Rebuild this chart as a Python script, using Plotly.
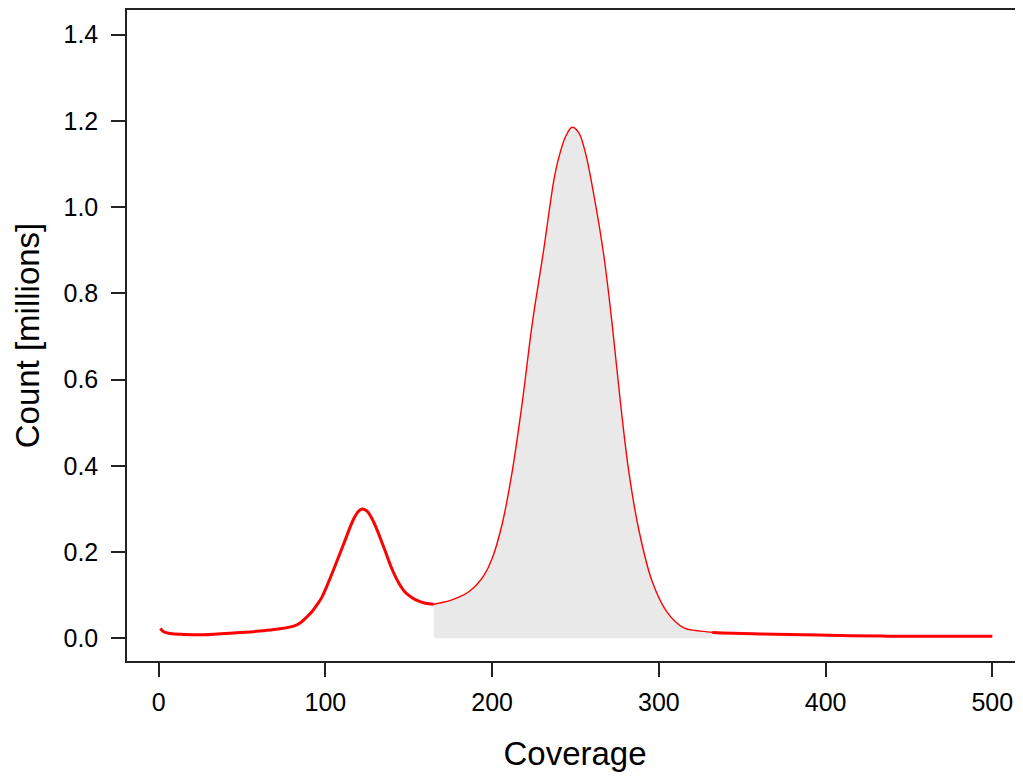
import plotly.graph_objects as go

# Coverage histogram (counts in millions)
coverage = [1, 3, 7, 15, 27, 47, 67, 81, 85, 89, 92, 95, 98, 101, 105, 111, 117, 120, 122,
            125, 129, 135, 140, 144, 148, 152, 156, 160, 165, 170, 175, 181, 186, 190, 195,
            200, 206, 212, 218, 224, 231, 237, 240, 244, 248, 252, 256, 261, 267, 272, 277,
            282, 288, 296, 305, 315, 322, 327, 332, 338, 360, 395, 434, 470, 500]
count_millions = [0.023, 0.015, 0.011, 0.009, 0.008, 0.0128, 0.019, 0.028, 0.036, 0.05,
                  0.062, 0.078, 0.096, 0.122, 0.16, 0.219, 0.277, 0.295, 0.300, 0.295,
                  0.269, 0.211, 0.160, 0.128, 0.106, 0.094, 0.086, 0.081, 0.079, 0.083,
                  0.088, 0.097, 0.108, 0.121, 0.145, 0.185, 0.265, 0.386, 0.545, 0.728,
                  0.903, 1.062, 1.115, 1.163, 1.185, 1.172, 1.125, 1.028, 0.887, 0.728,
                  0.545, 0.386, 0.251, 0.1315, 0.060, 0.024, 0.018, 0.016, 0.0136, 0.0125,
                  0.010, 0.0074, 0.005, 0.0045, 0.0044]

shade_start = 165
shade_end = 332

x_ticks = [0, 100, 200, 300, 400, 500]
y_ticks = [0.0, 0.2, 0.4, 0.6, 0.8, 1.0, 1.2, 1.4]

pts = list(zip(coverage, count_millions))
left = [p for p in pts if p[0] <= shade_start]
mid = [p for p in pts if shade_start <= p[0] <= shade_end]
right = [p for p in pts if p[0] >= shade_end]

RED = "#FF0000"
fig = go.Figure()
fig.add_trace(go.Scatter(x=[p[0] for p in mid], y=[p[1] for p in mid], mode="lines",
                         fill="tozeroy", fillcolor="#E9E9E9",
                         line=dict(width=0, shape="spline", color="rgba(0,0,0,0)"),
                         hoverinfo="skip", showlegend=False))
for seg, w in ((left, 3), (mid, 1.4), (right, 3)):
    fig.add_trace(go.Scatter(x=[p[0] for p in seg], y=[p[1] for p in seg], mode="lines",
                             line=dict(color=RED, width=w, shape="spline"),
                             showlegend=False))

font = "Liberation Sans, Arial, Helvetica, sans-serif"
fig.update_layout(
    width=1015, height=768,
    margin=dict(l=119, r=0, t=0, b=115),
    paper_bgcolor="white", plot_bgcolor="white",
    font=dict(family=font, color="black", size=25),
    xaxis=dict(range=[-19.0, 518.4], tickvals=x_ticks, ticktext=[str(v) for v in x_ticks],
               showline=True, mirror=True, linecolor="#222", linewidth=1.5,
               ticks="outside", ticklen=14, tickwidth=1.5, tickcolor="#222",
               showgrid=False, zeroline=False, ticklabelstandoff=4,
               title=dict(text="Coverage", font=dict(size=33), standoff=27)),
    yaxis=dict(range=[-0.0527, 1.4568], tickvals=y_ticks,
               ticktext=[f"{v:.1f}" for v in y_ticks],
               showline=True, mirror=False, linecolor="#222", linewidth=1.5,
               ticks="outside", ticklen=14, tickwidth=1.5, tickcolor="#222",
               showgrid=False, zeroline=False, ticklabelstandoff=8,
               title=dict(text="Count [millions]", font=dict(size=33), standoff=14)),
)

fig.write_html("out.html")
